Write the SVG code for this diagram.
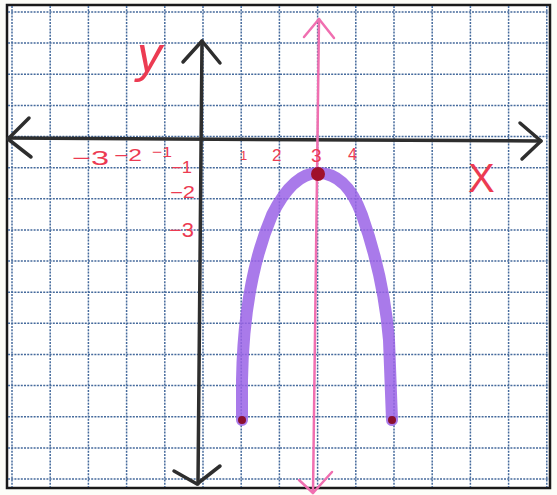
<svg xmlns="http://www.w3.org/2000/svg" width="557" height="495" viewBox="0 0 557 495">
<defs>
<style>
.g{stroke:#456a9c;stroke-width:1.5;stroke-dasharray:2 1.2;fill:none}
.ax{stroke:#2e2e2e;stroke-width:3.5;fill:none;stroke-linecap:round;stroke-linejoin:round}
.pk{stroke:#f06fb0;stroke-width:2.5;fill:none;stroke-linecap:round;stroke-linejoin:round}
.lb{fill:#ec3b52;font-family:"Liberation Sans",Arial,sans-serif}
</style>
</defs>
<rect x="0" y="0" width="557" height="495" fill="#fdfdf8"/>
<rect x="7" y="5" width="543" height="483" fill="#ffffff" stroke="#1a1a1a" stroke-width="2.5"/>
<g id="grid">
<path class="g" d="M12,6V487M50.2,6V487M88.4,6V487M126.6,6V487M164.8,6V487M203,6V487M241.2,6V487M279.4,6V487M317.6,6V487M355.8,6V487M394,6V487M432.2,6V487M470.4,6V487M508.6,6V487M546.8,6V487"/>
<path class="g" d="M8,12H549M8,43.1H549M8,74.3H549M8,105.4H549M8,136.5H549M8,167.7H549M8,198.8H549M8,229.9H549M8,261.1H549M8,292.2H549M8,323.3H549M8,354.5H549M8,385.6H549M8,416.7H549M8,447.9H549M8,479H549"/>
</g>
<g id="connectors">
<g id="x-axis">
<path class="ax" d="M8,138 L541,141"/>
<path class="ax" d="M29,118 L8,139 L31,157"/>
<path class="ax" d="M520,123 L541,141 L522,159"/>
</g>
<g id="y-axis">
<path class="ax" d="M202,41 L198,484"/>
<path class="ax" d="M183,62 L202,41 L220,63"/>
<path class="ax" d="M174,471 L197,484 L220,466"/>
</g>
<g id="symmetry-line">
<path class="pk" d="M319,19 L313,493"/>
<path class="pk" d="M304,37 L319,19 L334,38"/>
<path class="pk" d="M299,480 L313,493 L332,472"/>
</g>
</g>
<g id="parabola">
<path d="M242,420 L242,380 C243,320 252,262 272,215 C287,185 302,173 318,173 C337,173 352,188 362,215 C375,252 385,292 389,340 L392,420" fill="none" stroke="#9a63e6" stroke-opacity="0.85" stroke-width="12" stroke-linecap="round" stroke-linejoin="round"/>
<circle cx="318" cy="174" r="7" fill="#a0102a"/>
<circle cx="242" cy="420" r="4" fill="#8a1030"/>
<circle cx="392" cy="420" r="4" fill="#8a1030"/>
</g>
<g id="labels">
<text class="lb" x="137" y="72" font-size="50" font-family="'Liberation Serif',serif" font-style="italic">y</text>
<text class="lb" x="468" y="192" font-size="40">X</text>
<text class="lb" x="72" y="165" font-size="20" textLength="37" lengthAdjust="spacingAndGlyphs">−3</text>
<text class="lb" x="114" y="161" font-size="16" textLength="28" lengthAdjust="spacingAndGlyphs">−2</text>
<text class="lb" x="152" y="157" font-size="15" textLength="20" lengthAdjust="spacingAndGlyphs">−1</text>
<text class="lb" x="240" y="160" font-size="13">1</text>
<text class="lb" x="272" y="161" font-size="17">2</text>
<text class="lb" x="311" y="162" font-size="19">3</text>
<text class="lb" x="348" y="160" font-size="16">4</text>
<text class="lb" x="171" y="173" font-size="16" textLength="21" lengthAdjust="spacingAndGlyphs">−1</text>
<text class="lb" x="170" y="198" font-size="16" textLength="25" lengthAdjust="spacingAndGlyphs">−2</text>
<text class="lb" x="169" y="237" font-size="20" textLength="25" lengthAdjust="spacingAndGlyphs">−3</text>
</g>
</svg>
